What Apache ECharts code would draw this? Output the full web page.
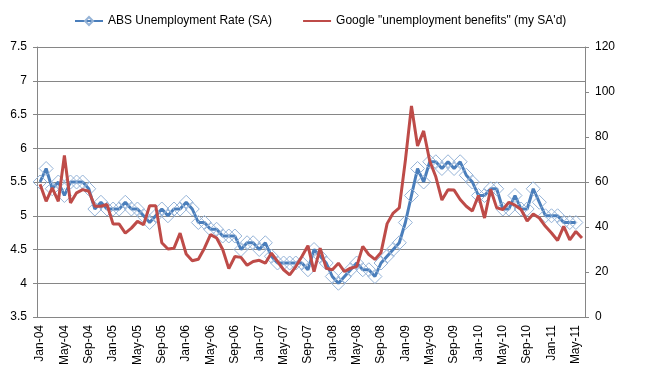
<!DOCTYPE html>
<html><head><meta charset="utf-8">
<script src="https://cdn.jsdelivr.net/npm/echarts@6/dist/echarts.min.js"></script>
<style>html,body{margin:0;padding:0;background:#fff}#c{width:653px;height:378px}</style>
</head><body><div id="c"></div>
<script>
const months = [
 'Jan-04','Feb-04','Mar-04','Apr-04','May-04','Jun-04','Jul-04','Aug-04','Sep-04','Oct-04','Nov-04','Dec-04',
 'Jan-05','Feb-05','Mar-05','Apr-05','May-05','Jun-05','Jul-05','Aug-05','Sep-05','Oct-05','Nov-05','Dec-05',
 'Jan-06','Feb-06','Mar-06','Apr-06','May-06','Jun-06','Jul-06','Aug-06','Sep-06','Oct-06','Nov-06','Dec-06',
 'Jan-07','Feb-07','Mar-07','Apr-07','May-07','Jun-07','Jul-07','Aug-07','Sep-07','Oct-07','Nov-07','Dec-07',
 'Jan-08','Feb-08','Mar-08','Apr-08','May-08','Jun-08','Jul-08','Aug-08','Sep-08','Oct-08','Nov-08','Dec-08',
 'Jan-09','Feb-09','Mar-09','Apr-09','May-09','Jun-09','Jul-09','Aug-09','Sep-09','Oct-09','Nov-09','Dec-09',
 'Jan-10','Feb-10','Mar-10','Apr-10','May-10','Jun-10','Jul-10','Aug-10','Sep-10','Oct-10','Nov-10','Dec-10',
 'Jan-11','Feb-11','Mar-11','Apr-11','May-11','Jun-11'
];
const absRate = [
 5.5,5.7,5.4,5.5,5.3,5.5,5.5,5.5,5.4,5.1,5.2,5.1,
 5.1,5.1,5.2,5.1,5.1,5.0,4.9,5.0,5.1,5.0,5.1,5.1,
 5.2,5.1,4.9,4.9,4.8,4.8,4.7,4.7,4.7,4.5,4.6,4.6,
 4.5,4.6,4.4,4.3,4.3,4.3,4.3,4.3,4.2,4.5,4.4,4.3,
 4.1,4.0,4.1,4.2,4.3,4.2,4.2,4.1,4.3,4.4,4.5,4.6,
 4.9,5.3,5.7,5.5,5.8,5.8,5.7,5.8,5.7,5.8,5.6,5.5,
 5.3,5.3,5.4,5.4,5.1,5.1,5.3,5.1,5.1,5.4,5.2,5.0,
 5.0,5.0,4.9,4.9,4.9,null
];
const googleIdx = [
 59,51.4,57.4,51.4,71.8,50.7,55.2,56.6,55.9,49.2,49.2,50,
 41.3,41.3,37.3,39.5,42.5,41,49.5,49.5,33,30.2,30.6,37.3,
 28,25,25.7,30.6,36.6,35.1,30,21.5,26.9,26.5,23,24.7,
 25.2,23.9,28.4,24.7,21,18.7,22.4,26.9,31.7,20.2,30.6,21.7,
 21,23.9,20.2,21.7,22.4,31.4,27.7,25.6,28.7,41.5,46.2,48.5,
 69.6,93.8,76,82.7,69.3,62.3,52,56.6,56.4,52.2,49.2,47.1,
 54,44,56.8,48.5,47.8,51,49.7,47.8,42.7,45.8,44,40.3,
 37.3,34,40.3,34.3,38,35.1
];
const leftTicks = {min:3.5, max:7.5, step:0.5};
const rightTicks = {min:0, max:120, step:20};

const chart = echarts.init(document.getElementById('c'), null, {renderer:'canvas'});
const axisGray = '#868686';
const absName = 'ABS Unemployment Rate (SA)';
const gName = 'Google "unemployment benefits" (my SA\'d)';
chart.setOption({
  animation:false,
  textStyle:{fontFamily:'Liberation Sans'},
  legend:{
    top:10, left:69, itemGap:30, itemWidth:28, itemHeight:10,
    textStyle:{fontSize:12, color:'#000'},
    data:[absName, {name:gName, itemStyle:{opacity:0}}]
  },
  grid:{left:37, right:68, top:47, bottom:61},
  xAxis:{
    type:'category', data:months, boundaryGap:true,
    axisLine:{lineStyle:{color:axisGray}},
    axisTick:{interval:3, length:5, lineStyle:{color:axisGray}},
    axisLabel:{interval:3, rotate:90, fontSize:12, color:'#000', margin:8}
  },
  yAxis:[
    {type:'value', min:leftTicks.min, max:leftTicks.max, interval:leftTicks.step,
     axisLine:{show:true, lineStyle:{color:axisGray}},
     axisTick:{show:true, length:4, lineStyle:{color:axisGray}},
     axisLabel:{fontSize:12, color:'#000', margin:10},
     splitLine:{lineStyle:{color:axisGray}}},
    {type:'value', position:'right', min:rightTicks.min, max:rightTicks.max, interval:rightTicks.step,
     axisLine:{show:true, lineStyle:{color:axisGray}},
     axisTick:{show:true, length:4, lineStyle:{color:axisGray}},
     axisLabel:{fontSize:12, color:'#000', margin:10},
     splitLine:{show:false}}
  ],
  series:[
    {name:absName, type:'line', yAxisIndex:0, data:absRate,
     symbol:'diamond', symbolSize:14, showAllSymbol:true,
     lineStyle:{color:'#4A7EBB', width:3},
     itemStyle:{color:'rgba(255,255,255,0)', borderColor:'#95B3D7', borderWidth:1},
     z:2},
    {name:gName, type:'line', yAxisIndex:1, data:googleIdx,
     symbol:'none', lineStyle:{color:'#BE4B48', width:3}, itemStyle:{color:'#BE4B48'},
     z:3}
  ]
});
</script></body></html>
